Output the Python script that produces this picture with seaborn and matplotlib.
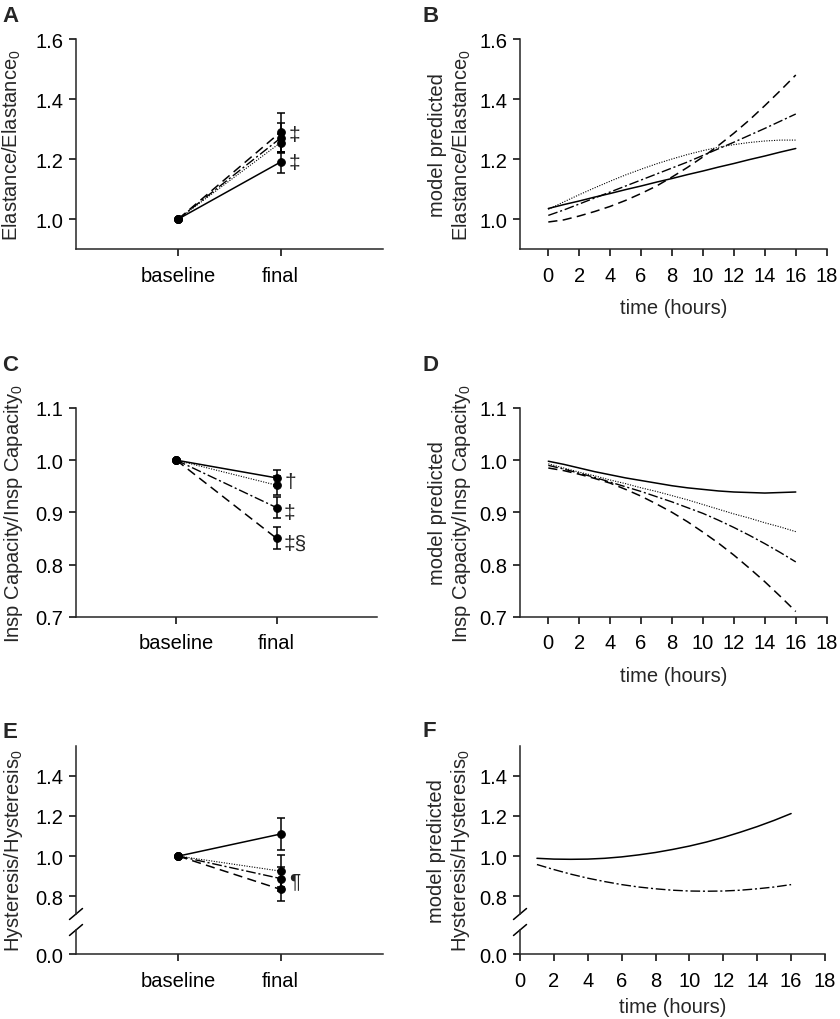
import matplotlib
matplotlib.use("Agg")
import matplotlib.pyplot as plt
import matplotlib.ticker as mticker
import seaborn as sns
import pandas as pd

# line groups, in the order solid / dotted / dash-dot / dashed
groups = ["solid", "dotted", "dashdot", "dashed"]

# measured values at "final" (baseline normalised to 1.0), with error bars
elast_final = [1.19, 1.255, 1.27, 1.29]
elast_err = [0.035, 0.03, 0.05, 0.065]
insp_final = [0.966, 0.952, 0.909, 0.850]
insp_err = [0.016, 0.018, 0.020, 0.021]
hyst_final = [1.11, 0.925, 0.888, 0.834]
hyst_err = [0.078, 0.08, 0.06, 0.058]

# model predicted curves
hours = list(range(0, 17))
elast_model = {
    "solid": [1.035, 1.048, 1.060, 1.073, 1.085, 1.098, 1.110, 1.123, 1.135,
              1.148, 1.160, 1.173, 1.185, 1.198, 1.210, 1.223, 1.235],
    "dotted": [1.032, 1.057, 1.081, 1.104, 1.126, 1.147, 1.166, 1.184, 1.200,
               1.215, 1.228, 1.239, 1.248, 1.255, 1.260, 1.263, 1.263],
    "dashdot": [1.012, 1.030, 1.050, 1.070, 1.090, 1.110, 1.130, 1.150, 1.170,
                1.190, 1.212, 1.234, 1.256, 1.279, 1.302, 1.326, 1.350],
    "dashed": [0.990, 0.997, 1.010, 1.025, 1.042, 1.062, 1.085, 1.110, 1.140,
               1.172, 1.207, 1.245, 1.286, 1.330, 1.378, 1.428, 1.480],
}
insp_model = {
    "solid": [0.998, 0.992, 0.985, 0.978, 0.972, 0.966, 0.961, 0.956, 0.951,
              0.947, 0.944, 0.941, 0.939, 0.938, 0.937, 0.938, 0.939],
    "dotted": [0.993, 0.985, 0.977, 0.970, 0.962, 0.955, 0.947, 0.940, 0.932,
               0.924, 0.915, 0.906, 0.897, 0.889, 0.880, 0.872, 0.863],
    "dashdot": [0.990, 0.983, 0.975, 0.967, 0.958, 0.949, 0.940, 0.930, 0.920,
                0.909, 0.898, 0.885, 0.871, 0.856, 0.840, 0.823, 0.805],
    "dashed": [0.985, 0.980, 0.973, 0.965, 0.956, 0.944, 0.931, 0.916, 0.900,
               0.882, 0.862, 0.841, 0.818, 0.793, 0.767, 0.739, 0.710],
}
hyst_hours = list(range(1, 17))
hyst_model = {
    "solid": [0.989, 0.985, 0.984, 0.985, 0.989, 0.996, 1.006, 1.018, 1.033,
              1.050, 1.070, 1.093, 1.119, 1.147, 1.178, 1.212],
    "dashdot": [0.958, 0.933, 0.910, 0.890, 0.873, 0.858, 0.846, 0.837, 0.830,
                0.826, 0.825, 0.826, 0.830, 0.837, 0.846, 0.858],
}

LS = {"solid": "-", "dotted": (0, (1, 1.3)), "dashdot": (0, (7, 2, 1.5, 2)),
      "dashed": (0, (6, 3.5))}
LW = {"solid": 1.1, "dotted": 0.8, "dashdot": 1.0, "dashed": 1.1}
FS = 14.5

sns.set_style("ticks")
plt.rcParams["font.family"] = ["Liberation Sans", "DejaVu Sans"]
plt.rcParams["mathtext.fontset"] = "custom"
plt.rcParams["mathtext.rm"] = "Liberation Sans"
plt.rcParams["axes.linewidth"] = 1.1

W, H = 840, 1020
fig = plt.figure(figsize=(W / 100, H / 100), dpi=100)


def add_ax(l, t, r, b):
    return fig.add_axes([l / W, 1 - b / H, (r - l) / W, (b - t) / H])


def style_ax(ax):
    sns.despine(ax=ax)
    ax.tick_params(direction="out", length=5, width=1.1, labelsize=FS, colors="k")
    ax.tick_params(axis="x", pad=7)
    ax.tick_params(axis="y", pad=4)
    ax.yaxis.set_major_formatter(mticker.FormatStrFormatter("%.1f"))


def measured(ax, finals, errs):
    for g, f, e in zip(groups, finals, errs):
        df = pd.DataFrame({"x": [0, 1], "y": [1.0, f]})
        sns.lineplot(data=df, x="x", y="y", ax=ax, color="k", linestyle=LS[g],
                     lw=LW[g], marker="o", markersize=5.5, markeredgecolor="k",
                     legend=False)
        ax.errorbar([1], [f], yerr=[e], fmt="none", ecolor="k", elinewidth=1.1,
                    capsize=3, capthick=1.1)
    ax.set_xlim(-1, 2)
    ax.set_xticks([0, 1])
    ax.set_xticklabels(["baseline", "final"])
    ax.set_xlabel("")


def model(ax, x, curves):
    for g, vals in curves.items():
        df = pd.DataFrame({"t": x, "y": vals})
        sns.lineplot(data=df, x="t", y="y", ax=ax, color="k", linestyle=LS[g],
                     lw=LW[g], legend=False)
    ax.set_xticks(range(0, 19, 2))


def break_marks(top, bottom, w_px, htop, hbot):
    kw = dict(color="k", lw=1.1, clip_on=False)
    dx = 6.5 / w_px
    top.plot([-dx, dx], [-5.5 / htop, 5.5 / htop], transform=top.transAxes, **kw)
    bottom.plot([-dx, dx], [1 - 5.5 / hbot, 1 + 5.5 / hbot],
                transform=bottom.transAxes, **kw)


sub0 = r"$_{\mathregular{0}}$"

# ---- A
axA = add_ax(76, 40, 383, 250)
measured(axA, elast_final, elast_err)
axA.set_ylim(0.9, 1.6)
axA.set_yticks([1.0, 1.2, 1.4, 1.6])
style_ax(axA)
axA.set_ylabel("Elastance/Elastance" + sub0, fontsize=FS)
axA.yaxis.set_label_coords(-0.173, 0.5)
axA.text(1.075, 1.283, "‡", fontsize=15, va="center", ha="left")
axA.text(1.075, 1.19, "‡", fontsize=15, va="center", ha="left")

# ---- B
axB = add_ax(520, 40, 826.7, 250)
model(axB, hours, elast_model)
axB.set_xlim(-1.83, 18)
axB.set_ylim(0.9, 1.6)
axB.set_yticks([1.0, 1.2, 1.4, 1.6])
style_ax(axB)
axB.set_xlabel("time (hours)", fontsize=FS, labelpad=9.5)
axB.set_ylabel("model predicted\nElastance/Elastance" + sub0, fontsize=FS)
axB.yaxis.set_label_coords(-0.153, 0.5)

# ---- C
axC = add_ax(76, 409, 377, 617.7)
measured(axC, insp_final, insp_err)
axC.set_ylim(0.7, 1.1)
axC.set_yticks([0.7, 0.8, 0.9, 1.0, 1.1])
style_ax(axC)
axC.set_ylabel("Insp Capacity/Insp Capacity" + sub0, fontsize=FS)
axC.yaxis.set_label_coords(-0.169, 0.5)
axC.text(1.08, 0.959, "†", fontsize=15, va="center", ha="left")
axC.text(1.07, 0.900, "‡", fontsize=15, va="center", ha="left")
axC.text(1.07, 0.840, "‡§", fontsize=15, va="center", ha="left")

# ---- D
axD = add_ax(520, 409, 826.7, 617.7)
model(axD, hours, insp_model)
axD.set_xlim(-1.83, 18)
axD.set_ylim(0.7, 1.1)
axD.set_yticks([0.7, 0.8, 0.9, 1.0, 1.1])
style_ax(axD)
axD.set_xlabel("time (hours)", fontsize=FS, labelpad=9.5)
axD.set_ylabel("model predicted\nInsp Capacity/Insp Capacity" + sub0, fontsize=FS)
axD.yaxis.set_label_coords(-0.153, 0.5)

# ---- E (broken y axis)
axE = add_ax(76, 746.7, 383, 915)
axE2 = add_ax(76, 931, 383, 955.3)
measured(axE, hyst_final, hyst_err)
axE.set_ylim(0.7115, 1.55)
axE.set_yticks([0.8, 1.0, 1.2, 1.4])
axE.set_ylabel("")
style_ax(axE)
axE.spines["bottom"].set_visible(False)
axE.tick_params(axis="x", bottom=False, labelbottom=False)
axE2.set_xlim(-1, 2)
axE2.set_ylim(0, 0.1215)
axE2.set_yticks([0.0])
axE2.set_xticks([0, 1])
axE2.set_xticklabels(["baseline", "final"])
style_ax(axE2)
axE2.patch.set_alpha(0)
axE.set_ylabel("Hysteresis/Hysteresis" + sub0, fontsize=FS)
axE.yaxis.set_label_coords(-0.166, 0.38)
axE.text(1.08, 0.88, "¶", fontsize=15, va="center", ha="left")
break_marks(axE, axE2, 307, 168.3, 24.3)

# ---- F (broken y axis)
axF = add_ax(520, 746.7, 825, 915)
axF2 = add_ax(520, 931, 825, 955.3)
model(axF, hyst_hours, hyst_model)
axF.set_xlim(0, 18)
axF.set_ylim(0.7115, 1.55)
axF.set_yticks([0.8, 1.0, 1.2, 1.4])
style_ax(axF)
axF.spines["bottom"].set_visible(False)
axF.tick_params(axis="x", bottom=False, labelbottom=False)
axF.set_xlabel("")
axF2.set_xlim(0, 18)
axF2.set_ylim(0, 0.1215)
axF2.set_yticks([0.0])
axF2.set_xticks(range(0, 19, 2))
style_ax(axF2)
axF2.patch.set_alpha(0)
axF2.set_xlabel("time (hours)", fontsize=FS, labelpad=5)
axF.set_ylabel("model predicted\nHysteresis/Hysteresis" + sub0, fontsize=FS)
axF.yaxis.set_label_coords(-0.157, 0.38)
break_marks(axF, axF2, 305, 168.3, 24.3)

# panel letters
for letter, (px, py) in {"A": (2, 6), "B": (423, 6), "C": (2, 355), "D": (423, 355),
                         "E": (2, 722), "F": (423, 721)}.items():
    fig.text(px / W, 1 - py / H, letter, fontsize=16, fontweight="bold",
             va="top", ha="left")

fig.savefig("out.png", dpi=100)
